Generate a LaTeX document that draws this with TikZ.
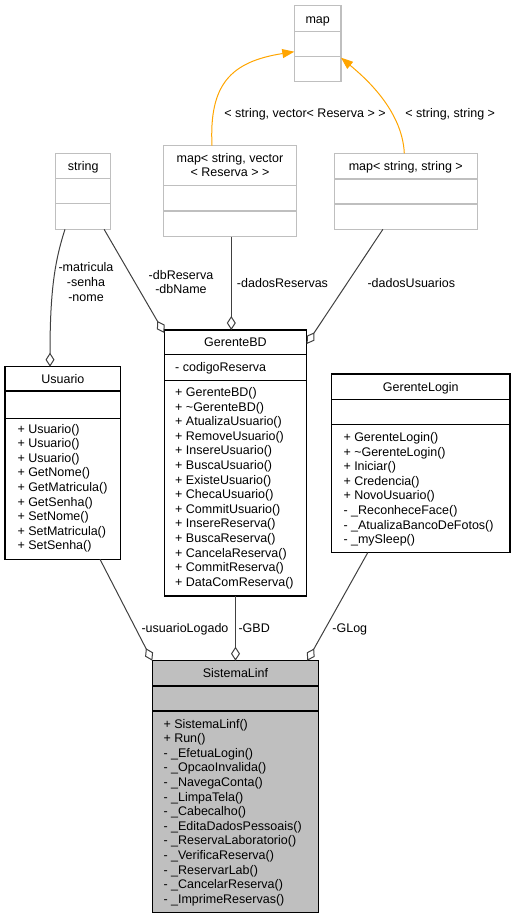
\documentclass[tikz,border=0pt]{standalone}
\usepackage{fontspec}
\setmainfont{Liberation Sans}
\usetikzlibrary{arrows.meta}

\newlength{\du}
\setlength{\du}{1pt}

\definecolor{edgecolor}{rgb}{0.250000, 0.250000, 0.250000}
\definecolor{tmplcolor}{rgb}{0.750000, 0.750000, 0.750000}
\definecolor{inhcolor}{rgb}{1.000000, 0.647000, 0.000000}
\definecolor{selfill}{rgb}{0.750000, 0.750000, 0.750000}

\tikzset{
  umlfont/.style={font=\fontsize{12.5}{14.6}\selectfont},
  classbox/.style={draw=black, line width=1.2\du, fill=white, inner sep=0pt, outer sep=0pt, anchor=north west},
  tmplbox/.style={classbox, draw=tmplcolor},
  classline/.style={draw=black, line width=1.2\du},
  tmplline/.style={draw=tmplcolor, line width=1.2\du},
  title/.style={umlfont, inner sep=0pt, anchor=base},
  member/.style={umlfont, inner sep=0pt, anchor=north west, align=left},
  edgelabel/.style={umlfont, inner sep=0pt, anchor=base},
  assoc/.style={draw=edgecolor, line width=1\du, -{Diamond[open, length=14pt, width=9pt]}},
  inherit/.style={draw=inhcolor, line width=1\du, -{Triangle[length=12pt, width=9pt]}}
}

\begin{document}
\begin{tikzpicture}[x=1\du,y=-1\du]
\useasboundingbox (0,0) rectangle (515,919);

% map
\node[tmplbox, minimum width=46.7\du, minimum height=76\du] (map) at (294.3,5.7) {};
\draw[tmplline] ([yshift=-26\du]map.north west) -- ([yshift=-26\du]map.north east);
\draw[tmplline] ([yshift=-51\du]map.north west) -- ([yshift=-51\du]map.north east);
\node[title] (maptitle) at (317.7,23.2) {map};

% map< string, vector< Reserva > >
\node[tmplbox, minimum width=133.4\du, minimum height=91\du] (mapsv) at (163.3,145.7) {};
\draw[tmplline] ([yshift=-40\du]mapsv.north west) -- ([yshift=-40\du]mapsv.north east);
\draw[tmplline] ([yshift=-65.3\du]mapsv.north west) -- ([yshift=-65.3\du]mapsv.north east);
\node[umlfont, inner sep=0pt, align=center] (mapsvtitle) at (230,165) {map< string, vector\\< Reserva > >};

% map< string, string >
\node[tmplbox, minimum width=143\du, minimum height=76\du] (mapss) at (334.3,153.3) {};
\draw[tmplline] ([yshift=-25.7\du]mapss.north west) -- ([yshift=-25.7\du]mapss.north east);
\draw[tmplline] ([yshift=-50.7\du]mapss.north west) -- ([yshift=-50.7\du]mapss.north east);
\node[title] (mapsstitle) at (405.8,170.2) {map< string, string >};

% string
\node[tmplbox, minimum width=55\du, minimum height=76\du] (string) at (55.7,153.3) {};
\draw[tmplline] ([yshift=-25\du]string.north west) -- ([yshift=-25\du]string.north east);
\draw[tmplline] ([yshift=-50\du]string.north west) -- ([yshift=-50\du]string.north east);
\node[title] (stringtitle) at (83.2,170.3) {string};

% GerenteBD
\node[classbox, minimum width=142.4\du, minimum height=266\du] (gerentebd) at (164.3,330) {};
\draw[classline] ([yshift=-24.3\du]gerentebd.north west) -- ([yshift=-24.3\du]gerentebd.north east);
\draw[classline] ([yshift=-50.3\du]gerentebd.north west) -- ([yshift=-50.3\du]gerentebd.north east);
\node[title] (gerentebdtitle) at (235.5,346.7) {GerenteBD};
\node[member] (gerentebdattr) at (175,362.2) {- codigoReserva};
\node[member] (gerentebdops) at (175,387.2) {+ GerenteBD()\\+ \textasciitilde GerenteBD()\\+ AtualizaUsuario()\\+ RemoveUsuario()\\+ InsereUsuario()\\+ BuscaUsuario()\\+ ExisteUsuario()\\+ ChecaUsuario()\\+ CommitUsuario()\\+ InsereReserva()\\+ BuscaReserva()\\+ CancelaReserva()\\+ CommitReserva()\\+ DataComReserva()};

% Usuario
\node[classbox, minimum width=115.7\du, minimum height=192.6\du] (usuario) at (5,366.7) {};
\draw[classline] ([yshift=-24.3\du]usuario.north west) -- ([yshift=-24.3\du]usuario.north east);
\draw[classline] ([yshift=-52\du]usuario.north west) -- ([yshift=-52\du]usuario.north east);
\node[title] (usuariotitle) at (62.9,383.3) {Usuario};
\node[member] (usuarioops) at (17.3,423.8) {+ Usuario()\\+ Usuario()\\+ Usuario()\\+ GetNome()\\+ GetMatricula()\\+ GetSenha()\\+ SetNome()\\+ SetMatricula()\\+ SetSenha()};

% GerenteLogin
\node[classbox, minimum width=178.3\du, minimum height=178.7\du] (gerentelogin) at (331.7,374) {};
\draw[classline] ([yshift=-25.3\du]gerentelogin.north west) -- ([yshift=-25.3\du]gerentelogin.north east);
\draw[classline] ([yshift=-50.3\du]gerentelogin.north west) -- ([yshift=-50.3\du]gerentelogin.north east);
\node[title] (gerentelogintitle) at (420.8,391.2) {GerenteLogin};
\node[member] (gerenteloginops) at (343.3,432.2) {+ GerenteLogin()\\+ \textasciitilde GerenteLogin()\\+ Iniciar()\\+ Credencia()\\+ NovoUsuario()\\- \_ReconheceFace()\\- \_AtualizaBancoDeFotos()\\- \_mySleep()};

% SistemaLinf
\node[classbox, fill=selfill, minimum width=166.4\du, minimum height=251.6\du] (sistemalinf) at (152.3,660.7) {};
\draw[classline] ([yshift=-25.3\du]sistemalinf.north west) -- ([yshift=-25.3\du]sistemalinf.north east);
\draw[classline] ([yshift=-50.3\du]sistemalinf.north west) -- ([yshift=-50.3\du]sistemalinf.north east);
\node[title] (sistemalinftitle) at (235.5,677.8) {SistemaLinf};
\node[member] (sistemalinfops) at (163.3,718.8) {+ SistemaLinf()\\+ Run()\\- \_EfetuaLogin()\\- \_OpcaoInvalida()\\- \_NavegaConta()\\- \_LimpaTela()\\- \_Cabecalho()\\- \_EditaDadosPessoais()\\- \_ReservaLaboratorio()\\- \_VerificaReserva()\\- \_ReservarLab()\\- \_CancelarReserva()\\- \_ImprimeReservas()};

% template instances
\draw[inherit] ([xshift=48.7\du]mapsv.north west) .. controls +(-3,-61) and +(-64,10) .. ([yshift=-46\du]map.north west);
\node[edgelabel] (mapsvlabel) at (305,117.2) {< string, vector< Reserva > >};
\draw[inherit] ([xshift=70\du]mapss.north west) .. controls +(-2,-43) and +(24,20) .. ([yshift=-52\du]map.north east);
\node[edgelabel] (mapsslabel) at (450.2,117.2) {< string, string >};

% aggregations
\draw[assoc] ([xshift=9.3\du]string.south west) .. controls +(-10,31) and +(0,-77) .. ([xshift=45\du]usuario.north west);
\node[umlfont, inner sep=0pt, align=center] (usuariolabel) at (86,282) {-matricula\\-senha\\-nome};
\draw[assoc] ([xshift=48.4\du]string.south west) -- ([yshift=-3\du]gerentebd.north west);
\node[umlfont, inner sep=0pt, align=center] (dblabel) at (181,282.2) {-dbReserva\\-dbName};
\draw[assoc] ([xshift=68\du]mapsv.south west) -- ([xshift=67\du]gerentebd.north west);
\node[edgelabel] (reservaslabel) at (282.5,287.2) {-dadosReservas};
\draw[assoc] ([xshift=48.6\du]mapss.south west) -- ([yshift=-14\du]gerentebd.north east);
\node[edgelabel] (usuarioslabel) at (411.3,287.2) {-dadosUsuarios};
\draw[assoc] ([xshift=95\du]usuario.south west) -- (sistemalinf.north west);
\node[edgelabel] (logadolabel) at (185,632.2) {-usuarioLogado};
\draw[assoc] (gerentebd.south) -- (sistemalinf.north);
\node[edgelabel] (gbdlabel) at (254.2,632.2) {-GBD};
\draw[assoc] ([xshift=36\du]gerentelogin.south west) -- ([xshift=155\du]sistemalinf.north west);
\node[edgelabel] (gloglabel) at (349.8,632.2) {-GLog};
\end{tikzpicture}
\end{document}
